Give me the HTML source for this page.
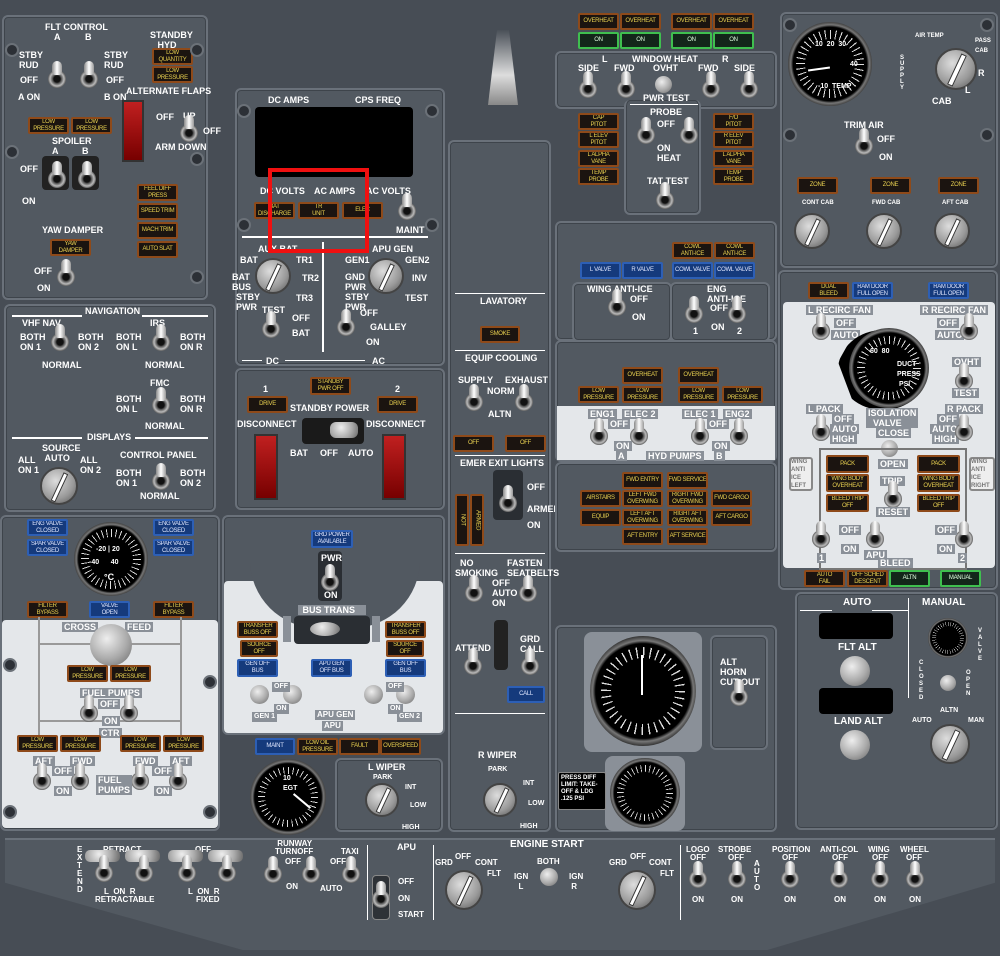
<!DOCTYPE html>
<html><head><meta charset="utf-8"><style>
*{margin:0;padding:0;box-sizing:border-box}
body{width:1000px;height:956px;background:#474d55;position:relative;overflow:hidden;font-family:"Liberation Sans",sans-serif}
.pn{position:absolute;background:#525961;border:2px solid #6a717a;border-radius:6px;box-shadow:inset 0 0 0 1px #3e444b}
.wh{position:absolute;background:#e4e7ea;border-radius:4px}
.am,.bu,.gr{position:absolute;height:17px;width:41px;border-radius:2px;display:flex;align-items:center;justify-content:center;text-align:center;font:6px/7px "Liberation Sans",sans-serif;letter-spacing:-.3px;white-space:nowrap;overflow:hidden}
.am{background:#1b1410;border:2px solid #8e4a1a;color:#e8d050}
.bu{background:#153a7c;border:2px solid #2d5fb5;color:#dfe6ff}
.gr{background:#13261a;border:2px solid #3fbf4f;color:#e0ffe0}
.t{position:absolute;color:#fff;font:bold 9px/10px "Liberation Sans",sans-serif;white-space:nowrap}
.tb{position:absolute;color:#fff;font:bold 9px/10px "Liberation Sans",sans-serif;white-space:nowrap;background:#8a9098;padding:0 2px}
.tg{position:absolute;width:18px;height:18px;border-radius:50%;background:radial-gradient(circle,#111 25%,#555 35%,#bbb 55%,#444 75%)}
.tg:after{content:"";position:absolute;left:4px;top:-9px;width:10px;height:14px;border-radius:5px 5px 3px 3px;background:linear-gradient(90deg,#888,#fff,#999)}
.kn{position:absolute;border-radius:50%;background:radial-gradient(circle at 40% 35%,#eee,#aaa 55%,#666)}
.kb{position:absolute;border-radius:50%;background:radial-gradient(circle at 40% 35%,#ddd,#999 60%,#555);border:2px solid #444}
.kb:after{content:"";position:absolute;left:45%;top:8%;width:10%;height:84%;background:#fff;border:1px solid #333;transform:rotate(25deg)}
.sc{position:absolute;width:14px;height:14px;border-radius:50%;background:#2c3036;border:2px solid #6b7178}
.gg{position:absolute;border-radius:50%;background:radial-gradient(circle,#000 62%,#777 66%,#333 72%,#555 100%)}
.gg:before{content:"";position:absolute;left:10%;top:10%;right:10%;bottom:10%;border-radius:50%;background:repeating-conic-gradient(#ddd 0 2deg,transparent 2deg 10deg)}
.gg:after{content:"";position:absolute;left:20%;top:20%;right:20%;bottom:20%;border-radius:50%;background:#000}
.bk{position:absolute;background:#000;border-radius:4px}
.rd{position:absolute;background:linear-gradient(#c02020,#700);border:2px solid #333}
.ln{position:absolute;background:#fff}
</style></head><body>

<div style="position:absolute;left:5px;top:838px;width:990px;height:112px;background:#525961;border-top:2px solid #6a717a;clip-path:polygon(0 0,100% 0,100% 40%,77% 100%,24% 100%,0 40%)"></div>

<div class="pn" style="left:2px;top:15px;width:206px;height:285px"></div>
<div class="t" style="left:45px;top:22px">FLT CONTROL</div>
<div class="t" style="left:54px;top:32px">A</div><div class="t" style="left:85px;top:32px">B</div>
<div class="t" style="left:19px;top:50px">STBY<br>RUD</div><div class="t" style="left:20px;top:75px">OFF</div><div class="t" style="left:18px;top:92px">A ON</div>
<div class="tg" style="left:48px;top:70px"></div><div class="tg" style="left:80px;top:70px"></div>
<div class="t" style="left:104px;top:50px">STBY<br>RUD</div><div class="t" style="left:106px;top:75px">OFF</div><div class="t" style="left:104px;top:92px">B ON</div>
<div class="t" style="left:150px;top:30px">STANDBY<br>&nbsp;&nbsp;&nbsp;HYD</div>
<div class="am" style="left:152px;top:48px">LOW<br>QUANTITY</div><div class="am" style="left:152px;top:66px">LOW<br>PRESSURE</div>
<div class="t" style="left:126px;top:86px">ALTERNATE FLAPS</div>
<div class="rd" style="left:122px;top:100px;width:22px;height:62px"></div>
<div class="t" style="left:156px;top:112px">OFF</div><div class="t" style="left:183px;top:111px">UP</div><div class="t" style="left:203px;top:126px">OFF</div>
<div class="t" style="left:155px;top:142px">ARM</div><div class="t" style="left:178px;top:142px">DOWN</div>
<div class="tg" style="left:180px;top:124px"></div>
<div class="am" style="left:28px;top:117px">LOW<br>PRESSURE</div><div class="am" style="left:71px;top:117px">LOW<br>PRESSURE</div>
<div class="t" style="left:52px;top:136px">SPOILER</div><div class="t" style="left:52px;top:146px">A</div><div class="t" style="left:82px;top:146px">B</div>
<div class="bk" style="left:42px;top:156px;width:27px;height:34px;background:#222"></div><div class="bk" style="left:72px;top:156px;width:27px;height:34px;background:#222"></div>
<div class="tg" style="left:48px;top:170px"></div><div class="tg" style="left:78px;top:170px"></div>
<div class="t" style="left:20px;top:164px">OFF</div><div class="t" style="left:22px;top:196px">ON</div>
<div class="am" style="left:137px;top:184px">FEEL DIFF<br>PRESS</div><div class="am" style="left:137px;top:203px">SPEED TRIM</div><div class="am" style="left:137px;top:222px">MACH TRIM</div><div class="am" style="left:137px;top:241px">AUTO SLAT</div>
<div class="t" style="left:42px;top:225px">YAW DAMPER</div>
<div class="am" style="left:50px;top:239px">YAW<br>DAMPER</div>
<div class="t" style="left:34px;top:266px">OFF</div><div class="t" style="left:37px;top:283px">ON</div><div class="tg" style="left:57px;top:268px"></div>
<div class="sc" style="left:5px;top:43px"></div><div class="sc" style="left:190px;top:43px"></div><div class="sc" style="left:5px;top:145px"></div><div class="sc" style="left:190px;top:152px"></div><div class="sc" style="left:190px;top:270px"></div>

<div class="pn" style="left:4px;top:304px;width:212px;height:208px"></div>
<div class="ln" style="left:12px;top:315px;width:70px;height:2px"></div><div class="t" style="left:85px;top:306px">NAVIGATION</div><div class="ln" style="left:142px;top:315px;width:66px;height:2px"></div>
<div class="t" style="left:22px;top:318px">VHF NAV</div><div class="t" style="left:150px;top:318px">IRS</div>
<div class="t" style="left:20px;top:332px">BOTH<br>ON 1</div><div class="t" style="left:78px;top:332px">BOTH<br>ON 2</div><div class="tg" style="left:51px;top:333px"></div>
<div class="t" style="left:116px;top:332px">BOTH<br>ON L</div><div class="t" style="left:180px;top:332px">BOTH<br>ON R</div><div class="tg" style="left:152px;top:333px"></div>
<div class="t" style="left:42px;top:360px">NORMAL</div><div class="t" style="left:145px;top:360px">NORMAL</div>
<div class="t" style="left:150px;top:378px">FMC</div>
<div class="t" style="left:116px;top:394px">BOTH<br>ON L</div><div class="t" style="left:180px;top:394px">BOTH<br>ON R</div><div class="tg" style="left:152px;top:396px"></div>
<div class="t" style="left:145px;top:421px">NORMAL</div>
<div class="ln" style="left:12px;top:437px;width:70px;height:2px"></div><div class="t" style="left:87px;top:432px">DISPLAYS</div><div class="ln" style="left:135px;top:437px;width:73px;height:2px"></div>
<div class="t" style="left:42px;top:443px">SOURCE<br>&nbsp;AUTO</div>
<div class="t" style="left:18px;top:455px">ALL<br>ON 1</div><div class="t" style="left:80px;top:455px">ALL<br>ON 2</div>
<div class="kb" style="left:40px;top:467px;width:38px;height:38px"></div>
<div class="t" style="left:120px;top:450px">CONTROL PANEL</div>
<div class="t" style="left:116px;top:468px">BOTH<br>ON 1</div><div class="t" style="left:180px;top:468px">BOTH<br>ON 2</div><div class="tg" style="left:152px;top:472px"></div>
<div class="t" style="left:140px;top:491px">NORMAL</div>

<div class="pn" style="left:235px;top:88px;width:210px;height:278px"></div>
<div class="t" style="left:268px;top:95px">DC AMPS</div><div class="t" style="left:355px;top:95px">CPS FREQ</div>
<div class="bk" style="left:255px;top:107px;width:158px;height:70px"></div>
<div class="t" style="left:260px;top:186px">DC VOLTS</div><div class="t" style="left:314px;top:186px">AC AMPS</div><div class="t" style="left:366px;top:186px">AC VOLTS</div>
<div class="am" style="left:254px;top:202px">BAT<br>DISCHARGE</div><div class="am" style="left:298px;top:202px">TR<br>UNIT</div><div class="am" style="left:342px;top:202px">ELEC</div>
<div class="tg" style="left:398px;top:202px"></div><div class="t" style="left:396px;top:225px">MAINT</div>
<div class="ln" style="left:242px;top:236px;width:186px;height:2px"></div>
<div class="ln" style="left:322px;top:242px;width:2px;height:110px"></div>
<div class="t" style="left:258px;top:244px">AUX BAT</div><div class="t" style="left:372px;top:244px">APU GEN</div>
<div class="t" style="left:240px;top:255px">BAT</div><div class="t" style="left:232px;top:272px">BAT<br>BUS</div><div class="t" style="left:236px;top:292px">STBY<br>PWR</div>
<div class="t" style="left:296px;top:255px">TR1</div><div class="t" style="left:302px;top:273px">TR2</div><div class="t" style="left:296px;top:293px">TR3</div>
<div class="kb" style="left:255px;top:258px;width:36px;height:36px"></div>
<div class="t" style="left:345px;top:255px">GEN1</div><div class="t" style="left:345px;top:272px">GND<br>PWR</div><div class="t" style="left:345px;top:292px">STBY<br>PWR</div>
<div class="t" style="left:405px;top:255px">GEN2</div><div class="t" style="left:412px;top:273px">INV</div><div class="t" style="left:405px;top:293px">TEST</div>
<div class="kb" style="left:368px;top:258px;width:36px;height:36px"></div>
<div class="t" style="left:262px;top:305px">TEST</div><div class="tg" style="left:262px;top:320px"></div>
<div class="t" style="left:292px;top:313px">OFF</div><div class="t" style="left:292px;top:328px">BAT</div>
<div class="tg" style="left:337px;top:318px"></div><div class="t" style="left:370px;top:322px">GALLEY</div><div class="t" style="left:366px;top:337px">ON</div><div class="t" style="left:360px;top:308px">OFF</div>
<div class="t" style="left:266px;top:356px">DC</div><div class="t" style="left:372px;top:356px">AC</div>
<div class="ln" style="left:242px;top:360px;width:20px;height:1px"></div><div class="ln" style="left:285px;top:360px;width:80px;height:1px"></div>
<div style="position:absolute;left:268px;top:168px;width:101px;height:85px;border:4px solid #f01010"></div>
<div class="sc" style="left:237px;top:104px"></div><div class="sc" style="left:425px;top:104px"></div><div class="sc" style="left:237px;top:218px"></div><div class="sc" style="left:425px;top:218px"></div>

<div class="pn" style="left:235px;top:368px;width:210px;height:142px"></div>
<div class="am" style="left:310px;top:377px;height:18px">STANDBY<br>PWR OFF</div>
<div class="t" style="left:263px;top:384px">1</div><div class="t" style="left:395px;top:384px">2</div>
<div class="am" style="left:247px;top:396px">DRIVE</div><div class="am" style="left:377px;top:396px">DRIVE</div>
<div class="t" style="left:290px;top:403px">STANDBY POWER</div>
<div class="t" style="left:237px;top:419px">DISCONNECT</div><div class="t" style="left:366px;top:419px">DISCONNECT</div>
<div class="bk" style="left:302px;top:418px;width:62px;height:26px;background:#1a1a1a"></div><div class="kn" style="left:330px;top:422px;width:28px;height:16px;border-radius:6px"></div>
<div class="t" style="left:290px;top:448px">BAT</div><div class="t" style="left:320px;top:448px">OFF</div><div class="t" style="left:348px;top:448px">AUTO</div>
<div class="rd" style="left:254px;top:434px;width:24px;height:66px"></div><div class="rd" style="left:382px;top:434px;width:24px;height:66px"></div>

<div class="pn" style="left:0px;top:515px;width:220px;height:316px"></div>
<div class="wh" style="left:2px;top:620px;width:216px;height:208px"></div>
<div class="bu" style="left:27px;top:519px">ENG VALVE<br>CLOSED</div><div class="bu" style="left:27px;top:539px">SPAR VALVE<br>CLOSED</div>
<div class="bu" style="left:153px;top:519px">ENG VALVE<br>CLOSED</div><div class="bu" style="left:153px;top:539px">SPAR VALVE<br>CLOSED</div>
<div class="gg" style="left:74px;top:522px;width:74px;height:74px"></div>
<div class="t" style="left:96px;top:545px;font-size:7px">-20 | 20</div><div class="t" style="left:89px;top:558px;font-size:7px">-40&nbsp;&nbsp;&nbsp;&nbsp;&nbsp;&nbsp;40</div><div class="t" style="left:104px;top:572px">°C</div>
<div class="am" style="left:27px;top:601px">FILTER<br>BYPASS</div><div class="bu" style="left:89px;top:601px">VALVE<br>OPEN</div><div class="am" style="left:153px;top:601px">FILTER<br>BYPASS</div>
<div class="tb" style="left:62px;top:622px">CROSS</div><div class="tb" style="left:125px;top:622px">FEED</div>
<div style="position:absolute;left:38px;top:617px;width:2px;height:120px;background:#999"></div><div style="position:absolute;left:180px;top:617px;width:2px;height:120px;background:#999"></div>
<div style="position:absolute;left:40px;top:643px;width:140px;height:2px;background:#999"></div>
<div style="position:absolute;left:40px;top:720px;width:140px;height:2px;background:#999"></div>
<div class="kn" style="left:90px;top:624px;width:42px;height:42px"></div>
<div class="am" style="left:67px;top:665px">LOW<br>PRESSURE</div><div class="am" style="left:110px;top:665px">LOW<br>PRESSURE</div>
<div class="tb" style="left:80px;top:688px">FUEL PUMPS</div>
<div class="tg" style="left:80px;top:704px"></div><div class="tg" style="left:120px;top:704px"></div>
<div class="tb" style="left:98px;top:699px">OFF</div><div class="tb" style="left:102px;top:716px">ON</div><div class="tb" style="left:99px;top:728px">CTR</div>
<div class="am" style="left:17px;top:735px">LOW<br>PRESSURE</div><div class="am" style="left:60px;top:735px">LOW<br>PRESSURE</div><div class="am" style="left:120px;top:735px">LOW<br>PRESSURE</div><div class="am" style="left:163px;top:735px">LOW<br>PRESSURE</div>
<div class="tb" style="left:33px;top:756px">AFT</div><div class="tb" style="left:70px;top:756px">FWD</div><div class="tb" style="left:133px;top:756px">FWD</div><div class="tb" style="left:170px;top:756px">AFT</div>
<div class="tg" style="left:33px;top:772px"></div><div class="tg" style="left:71px;top:772px"></div><div class="tg" style="left:131px;top:772px"></div><div class="tg" style="left:169px;top:772px"></div>
<div class="tb" style="left:52px;top:766px">OFF</div><div class="tb" style="left:54px;top:786px">ON</div><div class="tb" style="left:152px;top:766px">OFF</div><div class="tb" style="left:154px;top:786px">ON</div>
<div class="tb" style="left:96px;top:775px">FUEL<br>PUMPS</div>
<div class="sc" style="left:3px;top:658px"></div><div class="sc" style="left:203px;top:675px"></div><div class="sc" style="left:3px;top:805px"></div><div class="sc" style="left:203px;top:805px"></div>

<div class="pn" style="left:222px;top:515px;width:223px;height:220px"></div>
<div class="wh" style="left:224px;top:581px;width:219px;height:152px"></div>
<div style="position:absolute;left:250px;top:560px;width:170px;height:68px;background:#525961;border-radius:0 0 85px 85px"></div>
<div class="bu" style="left:311px;top:530px;width:42px;height:18px">GRD POWER<br>AVAILABLE</div>
<div class="bk" style="left:318px;top:551px;width:24px;height:50px;background:#2a2e33"></div>
<div class="t" style="left:321px;top:553px">PWR</div><div class="tg" style="left:321px;top:573px"></div><div class="t" style="left:324px;top:590px">ON</div>
<div class="tb" style="left:298px;top:605px;width:68px">&nbsp;BUS TRANS</div>
<div class="am" style="left:237px;top:621px">TRANSFER<br>BUSS OFF</div><div class="am" style="left:240px;top:640px;width:38px">SOURCE<br>OFF</div><div class="bu" style="left:237px;top:659px;height:18px">GEN OFF<br>BUS</div>
<div class="am" style="left:385px;top:621px">TRANSFER<br>BUSS OFF</div><div class="am" style="left:386px;top:640px;width:38px">SOURCE<br>OFF</div><div class="bu" style="left:385px;top:659px;height:18px">GEN OFF<br>BUS</div>
<div class="bu" style="left:311px;top:659px;height:18px">APU GEN<br>OFF BUS</div>
<div class="bk" style="left:294px;top:616px;width:76px;height:28px;background:#2a2e33"></div><div class="kn" style="left:310px;top:622px;width:30px;height:14px"></div>
<div class="tb" style="left:283px;top:616px;width:8px;height:26px"></div><div class="tb" style="left:372px;top:616px;width:8px;height:26px"></div>
<div class="kn" style="left:250px;top:685px;width:19px;height:19px"></div><div class="kn" style="left:283px;top:685px;width:19px;height:19px"></div><div class="kn" style="left:364px;top:685px;width:19px;height:19px"></div><div class="kn" style="left:396px;top:685px;width:19px;height:19px"></div>
<div class="tb" style="left:272px;top:682px;font-size:7px">OFF</div><div class="tb" style="left:274px;top:704px;font-size:7px">ON</div><div class="tb" style="left:252px;top:712px;font-size:7px">GEN 1</div>
<div class="tb" style="left:386px;top:682px;font-size:7px">OFF</div><div class="tb" style="left:388px;top:704px;font-size:7px">ON</div><div class="tb" style="left:397px;top:712px;font-size:7px">GEN 2</div>
<div class="tb" style="left:315px;top:710px;font-size:8px">APU GEN</div><div class="tb" style="left:322px;top:721px;font-size:8px">APU</div>

<div class="bu" style="left:255px;top:738px;width:40px">MAINT</div><div class="am" style="left:297px;top:738px">LOW OIL<br>PRESSURE</div><div class="am" style="left:339px;top:738px">FAULT</div><div class="am" style="left:380px;top:738px">OVERSPEED</div>
<div class="gg" style="left:250px;top:759px;width:76px;height:76px"></div><div class="t" style="left:283px;top:774px;font-size:7px">10<br>EGT</div>
<div style="position:absolute;left:291px;top:800px;width:22px;height:2px;background:#fff;transform:rotate(40deg)"></div>
<div class="pn" style="left:335px;top:758px;width:108px;height:74px"></div>
<div class="t" style="left:368px;top:762px">L WIPER</div><div class="t" style="left:373px;top:773px;font-size:7px">PARK</div>
<div class="kb" style="left:365px;top:783px;width:34px;height:34px"></div>
<div class="t" style="left:405px;top:783px;font-size:7px">INT</div><div class="t" style="left:410px;top:801px;font-size:7px">LOW</div><div class="t" style="left:402px;top:823px;font-size:7px">HIGH</div>

<div style="position:absolute;left:488px;top:30px;width:30px;height:75px;background:linear-gradient(#4a5058,#ddd 60%,#888);clip-path:polygon(30% 0,70% 0,100% 100%,0 100%)"></div>
<div class="pn" style="left:448px;top:140px;width:103px;height:692px"></div>
<div class="ln" style="left:455px;top:293px;width:90px;height:1px"></div>
<div class="t" style="left:480px;top:296px">LAVATORY</div>
<div class="am" style="left:480px;top:326px;width:40px">SMOKE</div>
<div class="ln" style="left:455px;top:350px;width:90px;height:1px"></div>
<div class="t" style="left:465px;top:353px">EQUIP COOLING</div>
<div class="t" style="left:458px;top:375px">SUPPLY</div><div class="t" style="left:505px;top:375px">EXHAUST</div><div class="t" style="left:487px;top:386px">NORM</div><div class="t" style="left:488px;top:409px">ALTN</div>
<div class="tg" style="left:465px;top:393px"></div><div class="tg" style="left:515px;top:393px"></div>
<div class="am" style="left:453px;top:435px">OFF</div><div class="am" style="left:505px;top:435px">OFF</div>
<div class="ln" style="left:455px;top:455px;width:90px;height:1px"></div>
<div class="t" style="left:460px;top:458px">EMER EXIT LIGHTS</div>
<div class="bk" style="left:493px;top:470px;width:30px;height:50px;background:#2a2e33"></div><div class="tg" style="left:499px;top:494px"></div>
<div class="t" style="left:527px;top:482px">OFF</div><div class="t" style="left:527px;top:504px">ARMED</div><div class="t" style="left:527px;top:520px">ON</div>
<div class="am" style="left:455px;top:494px;width:14px;height:52px;writing-mode:vertical-rl">NOT</div><div class="am" style="left:470px;top:494px;width:14px;height:52px;writing-mode:vertical-rl">ARMED</div>
<div class="ln" style="left:455px;top:553px;width:90px;height:1px"></div>
<div class="t" style="left:455px;top:558px">&nbsp;&nbsp;NO<br>SMOKING</div><div class="t" style="left:507px;top:558px">FASTEN<br>SEATBELTS</div>
<div class="t" style="left:492px;top:578px">OFF<br>AUTO<br>ON</div>
<div class="tg" style="left:465px;top:584px"></div><div class="tg" style="left:519px;top:584px"></div>
<div class="t" style="left:455px;top:643px">ATTEND</div><div class="t" style="left:520px;top:634px">GRD<br>CALL</div>
<div class="bk" style="left:494px;top:620px;width:14px;height:50px;background:#222"></div>
<div class="tg" style="left:464px;top:657px"></div><div class="tg" style="left:521px;top:657px"></div>
<div class="bu" style="left:507px;top:686px;width:38px">CALL</div>
<div class="ln" style="left:455px;top:713px;width:90px;height:1px"></div>
<div class="t" style="left:478px;top:750px">R WIPER</div><div class="t" style="left:488px;top:765px;font-size:7px">PARK</div>
<div class="kb" style="left:483px;top:783px;width:34px;height:34px"></div>
<div class="t" style="left:523px;top:779px;font-size:7px">INT</div><div class="t" style="left:528px;top:799px;font-size:7px">LOW</div><div class="t" style="left:520px;top:822px;font-size:7px">HIGH</div>

<div class="am" style="left:578px;top:13px">OVERHEAT</div><div class="am" style="left:620px;top:13px">OVERHEAT</div><div class="am" style="left:671px;top:13px">OVERHEAT</div><div class="am" style="left:713px;top:13px">OVERHEAT</div>
<div class="gr" style="left:578px;top:32px">ON</div><div class="gr" style="left:620px;top:32px">ON</div><div class="gr" style="left:671px;top:32px">ON</div><div class="gr" style="left:713px;top:32px">ON</div>
<div class="pn" style="left:555px;top:51px;width:222px;height:58px"></div>
<div class="pn" style="left:624px;top:100px;width:77px;height:115px;border-top:none"></div>
<div class="t" style="left:602px;top:54px">L</div><div class="t" style="left:632px;top:54px">WINDOW HEAT</div><div class="t" style="left:722px;top:54px">R</div>
<div class="t" style="left:578px;top:63px">SIDE</div><div class="t" style="left:614px;top:63px">FWD</div><div class="t" style="left:653px;top:63px">OVHT</div><div class="t" style="left:698px;top:63px">FWD</div><div class="t" style="left:734px;top:63px">SIDE</div>
<div class="tg" style="left:579px;top:80px"></div><div class="tg" style="left:617px;top:80px"></div><div class="kn" style="left:655px;top:76px;width:17px;height:17px"></div><div class="tg" style="left:702px;top:80px"></div><div class="tg" style="left:740px;top:80px"></div>
<div class="t" style="left:643px;top:93px">PWR TEST</div><div class="ln" style="left:630px;top:104px;width:68px;height:1px"></div>
<div class="t" style="left:650px;top:107px">PROBE</div><div class="t" style="left:657px;top:119px">OFF</div><div class="t" style="left:657px;top:143px">ON<br>HEAT</div>
<div class="tg" style="left:637px;top:126px"></div><div class="tg" style="left:680px;top:126px"></div>
<div class="t" style="left:647px;top:176px">TAT TEST</div><div class="tg" style="left:656px;top:191px"></div>
<div class="am" style="left:578px;top:113px">CAP<br>PITOT</div><div class="am" style="left:578px;top:131px">L ELEV<br>PITOT</div><div class="am" style="left:578px;top:150px">L ALPHA<br>VANE</div><div class="am" style="left:578px;top:168px">TEMP<br>PROBE</div>
<div class="am" style="left:713px;top:113px">F/O<br>PITOT</div><div class="am" style="left:713px;top:131px">R ELEV<br>PITOT</div><div class="am" style="left:713px;top:150px">L ALPHA<br>VANE</div><div class="am" style="left:713px;top:168px">TEMP<br>PROBE</div>

<div class="pn" style="left:555px;top:221px;width:222px;height:120px"></div>
<div class="am" style="left:672px;top:242px">COWL<br>ANTI-ICE</div><div class="am" style="left:714px;top:242px">COWL<br>ANTI-ICE</div>
<div class="bu" style="left:580px;top:262px">L VALVE</div><div class="bu" style="left:622px;top:262px">R VALVE</div><div class="bu" style="left:672px;top:262px">COWL VALVE</div><div class="bu" style="left:714px;top:262px">COWL VALVE</div>
<div class="pn" style="left:572px;top:282px;width:100px;height:60px"></div><div class="pn" style="left:670px;top:282px;width:100px;height:60px"></div>
<div class="t" style="left:587px;top:284px">WING ANTI-ICE</div><div class="t" style="left:630px;top:294px">OFF</div><div class="t" style="left:632px;top:312px">ON</div><div class="tg" style="left:608px;top:298px"></div>
<div class="t" style="left:707px;top:284px">ENG<br>ANTI-ICE</div><div class="t" style="left:710px;top:303px">OFF</div><div class="t" style="left:711px;top:322px">ON</div>
<div class="tg" style="left:685px;top:305px"></div><div class="tg" style="left:728px;top:305px"></div>
<div class="t" style="left:693px;top:326px">1</div><div class="t" style="left:737px;top:326px">2</div>

<div class="pn" style="left:555px;top:340px;width:222px;height:122px"></div>
<div class="wh" style="left:557px;top:406px;width:218px;height:54px;border-radius:0"></div>
<div class="am" style="left:622px;top:367px">OVERHEAT</div><div class="am" style="left:678px;top:367px">OVERHEAT</div>
<div class="am" style="left:578px;top:386px">LOW<br>PRESSURE</div><div class="am" style="left:622px;top:386px">LOW<br>PRESSURE</div><div class="am" style="left:678px;top:386px">LOW<br>PRESSURE</div><div class="am" style="left:722px;top:386px">LOW<br>PRESSURE</div>
<div class="tb" style="left:588px;top:409px">ENG1</div><div class="tb" style="left:622px;top:409px">ELEC 2</div><div class="tb" style="left:682px;top:409px">ELEC 1</div><div class="tb" style="left:723px;top:409px">ENG2</div>
<div class="tb" style="left:608px;top:419px">OFF</div><div class="tb" style="left:707px;top:419px">OFF</div>
<div class="tg" style="left:590px;top:427px"></div><div class="tg" style="left:630px;top:427px"></div><div class="tg" style="left:691px;top:427px"></div><div class="tg" style="left:730px;top:427px"></div>
<div class="tb" style="left:614px;top:441px">ON</div><div class="tb" style="left:616px;top:451px">A</div><div class="tb" style="left:646px;top:451px">HYD PUMPS</div><div class="tb" style="left:712px;top:441px">ON</div><div class="tb" style="left:714px;top:451px">B</div>

<div class="pn" style="left:555px;top:462px;width:222px;height:90px"></div>
<div class="am" style="left:622px;top:472px">FWD ENTRY</div><div class="am" style="left:667px;top:472px">FWD SERVICE</div>
<div class="am" style="left:580px;top:490px">AIRSTAIRS</div><div class="am" style="left:622px;top:490px">LEFT FWD<br>OVERWING</div><div class="am" style="left:667px;top:490px">RIGHT FWD<br>OVERWING</div><div class="am" style="left:711px;top:490px">FWD CARGO</div>
<div class="am" style="left:580px;top:509px">EQUIP</div><div class="am" style="left:622px;top:509px">LEFT AFT<br>OVERWING</div><div class="am" style="left:667px;top:509px">RIGHT AFT<br>OVERWING</div><div class="am" style="left:711px;top:509px">AFT CARGO</div>
<div class="am" style="left:622px;top:528px">AFT ENTRY</div><div class="am" style="left:667px;top:528px">AFT SERVICE</div>

<div class="pn" style="left:555px;top:625px;width:222px;height:207px"></div>
<div class="pn" style="left:710px;top:635px;width:58px;height:115px"></div>
<div style="position:absolute;left:584px;top:632px;width:118px;height:120px;background:#8a9098;border-radius:8px"></div>
<div class="gg" style="left:590px;top:636px;width:106px;height:110px"></div>
<div style="position:absolute;left:641px;top:655px;width:2px;height:40px;background:#fff"></div>
<div class="t" style="left:720px;top:657px">ALT<br>HORN<br>CUT OUT</div><div class="tg" style="left:730px;top:688px"></div>
<div style="position:absolute;left:605px;top:756px;width:80px;height:75px;background:#8a9098;border-radius:8px"></div>
<div class="gg" style="left:610px;top:758px;width:70px;height:70px"></div>
<div class="bk" style="left:558px;top:772px;width:48px;height:38px;border:1px solid #888;border-radius:2px"></div>
<div class="t" style="left:561px;top:775px;font-size:6px;line-height:7px">PRESS DIFF<br>LIMIT: TAKE-<br>OFF &amp; LDG<br>.125 PSI</div>

<div class="pn" style="left:780px;top:12px;width:218px;height:256px"></div>
<div class="gg" style="left:788px;top:22px;width:84px;height:84px"></div>
<div class="t" style="left:815px;top:40px;font-size:7px">10&nbsp;&nbsp;20&nbsp;&nbsp;30</div><div class="t" style="left:850px;top:60px;font-size:7px">40</div><div class="t" style="left:818px;top:82px;font-size:7px">-10&nbsp;&nbsp;TEMP</div>
<div style="position:absolute;left:808px;top:68px;width:22px;height:2px;background:#fff;transform:rotate(-8deg)"></div>
<div class="t" style="left:915px;top:31px;font-size:6px">AIR TEMP</div><div class="t" style="left:975px;top:36px;font-size:6px">PASS<br>CAB</div>
<div class="t" style="left:900px;top:55px;font-size:6px;line-height:6px">S<br>U<br>P<br>P<br>L<br>Y</div>
<div class="kb" style="left:935px;top:48px;width:42px;height:42px"></div>
<div class="t" style="left:932px;top:96px">CAB</div><div class="t" style="left:965px;top:85px">L</div><div class="t" style="left:978px;top:68px">R</div>
<div class="t" style="left:844px;top:120px">TRIM AIR</div><div class="tg" style="left:855px;top:137px"></div><div class="t" style="left:877px;top:134px">OFF</div><div class="t" style="left:879px;top:152px">ON</div>
<div class="am" style="left:797px;top:177px">ZONE</div><div class="am" style="left:870px;top:177px">ZONE</div><div class="am" style="left:938px;top:177px">ZONE</div>
<div class="t" style="left:802px;top:198px;font-size:6px">CONT CAB</div><div class="t" style="left:872px;top:198px;font-size:6px">FWD CAB</div><div class="t" style="left:942px;top:198px;font-size:6px">AFT CAB</div>
<div class="kb" style="left:794px;top:213px;width:36px;height:36px"></div><div class="kb" style="left:866px;top:213px;width:36px;height:36px"></div><div class="kb" style="left:934px;top:213px;width:36px;height:36px"></div>
<div class="sc" style="left:783px;top:18px"></div><div class="sc" style="left:980px;top:18px"></div><div class="sc" style="left:783px;top:128px"></div><div class="sc" style="left:980px;top:128px"></div>

<div class="pn" style="left:778px;top:270px;width:220px;height:320px"></div>
<div class="wh" style="left:783px;top:302px;width:212px;height:266px"></div>
<div class="am" style="left:808px;top:282px">DUAL<br>BLEED</div><div class="bu" style="left:852px;top:282px">RAM DOOR<br>FULL OPEN</div><div class="bu" style="left:928px;top:282px">RAM DOOR<br>FULL OPEN</div>
<div class="tb" style="left:806px;top:305px">L RECIRC FAN</div><div class="tb" style="left:920px;top:305px">R RECIRC FAN</div>
<div class="tb" style="left:834px;top:318px">OFF</div><div class="tb" style="left:831px;top:330px">AUTO</div><div class="tb" style="left:937px;top:318px">OFF</div><div class="tb" style="left:935px;top:330px">AUTO</div>
<div class="tg" style="left:812px;top:322px"></div><div class="tg" style="left:960px;top:322px"></div>
<div style="position:absolute;left:838px;top:330px;width:90px;height:80px;background:#000;border-radius:50%;clip-path:polygon(0 40%,20% 0,100% 0,100% 100%,20% 100%)"></div>
<div class="gg" style="left:849px;top:328px;width:80px;height:80px"></div>
<div class="t" style="left:870px;top:347px;font-size:7px">60&nbsp;&nbsp;80</div><div class="t" style="left:897px;top:360px;font-size:7px">DUCT<br>PRESS<br>&nbsp;PSI</div>
<div class="tb" style="left:952px;top:357px">OVHT</div><div class="tg" style="left:955px;top:372px"></div><div class="tb" style="left:952px;top:388px">TEST</div>
<div class="tb" style="left:806px;top:404px">L PACK</div><div class="tb" style="left:832px;top:414px">OFF</div><div class="tb" style="left:830px;top:424px">AUTO</div><div class="tb" style="left:830px;top:434px">HIGH</div>
<div class="tb" style="left:945px;top:404px">R PACK</div><div class="tb" style="left:937px;top:414px">OFF</div><div class="tb" style="left:930px;top:424px">AUTO</div><div class="tb" style="left:932px;top:434px">HIGH</div>
<div class="tg" style="left:812px;top:423px"></div><div class="tg" style="left:955px;top:423px"></div>
<div class="tb" style="left:866px;top:408px">ISOLATION<br>&nbsp;&nbsp;VALVE</div><div class="tb" style="left:876px;top:428px">CLOSE</div>
<div class="kn" style="left:881px;top:440px;width:17px;height:17px"></div>
<div style="position:absolute;left:819px;top:448px;width:148px;height:122px;border:2px double #777"></div>
<div class="tb" style="left:878px;top:459px">OPEN</div>
<div class="am" style="left:826px;top:455px;width:43px;height:18px">PACK</div><div class="am" style="left:826px;top:474px;width:43px;height:18px">WING BODY<br>OVERHEAT</div><div class="am" style="left:826px;top:494px;width:43px;height:18px">BLEED TRIP<br>OFF</div>
<div class="am" style="left:917px;top:455px;width:43px;height:18px">PACK</div><div class="am" style="left:917px;top:474px;width:43px;height:18px">WING BODY<br>OVERHEAT</div><div class="am" style="left:917px;top:494px;width:43px;height:18px">BLEED TRIP<br>OFF</div>
<div class="tb" style="left:880px;top:476px">TRIP</div><div class="tg" style="left:884px;top:490px"></div><div class="tb" style="left:876px;top:507px">RESET</div>
<div style="position:absolute;left:789px;top:457px;width:24px;height:34px;border:2px solid #888;border-radius:3px;background:#eee"></div><div class="t" style="left:791px;top:458px;color:#777;font-size:6px;line-height:8px">WING<br>ANTI<br>ICE<br>LEFT</div>
<div style="position:absolute;left:969px;top:457px;width:26px;height:34px;border:2px solid #888;border-radius:3px;background:#eee"></div><div class="t" style="left:971px;top:458px;color:#777;font-size:6px;line-height:8px">WING<br>ANTI<br>ICE<br>RIGHT</div>
<div class="tg" style="left:812px;top:530px"></div><div class="tg" style="left:866px;top:530px"></div><div class="tg" style="left:955px;top:530px"></div>
<div class="tb" style="left:839px;top:525px">OFF</div><div class="tb" style="left:841px;top:544px">ON</div><div class="tb" style="left:935px;top:525px">OFF</div><div class="tb" style="left:937px;top:544px">ON</div>
<div class="tb" style="left:817px;top:553px">1</div><div class="tb" style="left:864px;top:550px">APU</div><div class="tb" style="left:878px;top:558px">BLEED</div><div class="tb" style="left:958px;top:553px">2</div>
<div class="am" style="left:804px;top:570px">AUTO<br>FAIL</div><div class="am" style="left:847px;top:570px">OFF SCHED<br>DESCENT</div><div class="gr" style="left:889px;top:570px">ALTN</div><div class="gr" style="left:940px;top:570px">MANUAL</div>

<div class="pn" style="left:795px;top:592px;width:203px;height:238px"></div>
<div class="t" style="left:843px;top:598px;font-size:10px">AUTO</div><div class="t" style="left:922px;top:598px;font-size:10px">MANUAL</div>
<div class="ln" style="left:908px;top:598px;width:1px;height:100px"></div><div class="ln" style="left:800px;top:610px;width:32px;height:1px"></div><div class="ln" style="left:872px;top:610px;width:36px;height:1px"></div>
<div class="bk" style="left:819px;top:613px;width:74px;height:26px"></div>
<div class="t" style="left:838px;top:643px;font-size:10px">FLT ALT</div><div class="kn" style="left:840px;top:656px;width:30px;height:30px"></div>
<div class="bk" style="left:819px;top:688px;width:74px;height:26px"></div>
<div class="t" style="left:834px;top:717px;font-size:10px">LAND ALT</div><div class="kn" style="left:840px;top:730px;width:30px;height:30px"></div>
<div class="gg" style="left:928px;top:618px;width:40px;height:40px"></div>
<div class="t" style="left:978px;top:628px;font-size:6px;line-height:7px">V<br>A<br>L<br>V<br>E</div>
<div class="t" style="left:919px;top:660px;font-size:6px;line-height:7px">C<br>L<br>O<br>S<br>E<br>D</div><div class="t" style="left:966px;top:670px;font-size:6px;line-height:7px">O<br>P<br>E<br>N</div>
<div class="kn" style="left:940px;top:675px;width:16px;height:16px"></div>
<div class="t" style="left:940px;top:706px;font-size:7px">ALTN</div><div class="t" style="left:912px;top:716px;font-size:7px">AUTO</div><div class="t" style="left:968px;top:716px;font-size:7px">MAN</div>
<div class="kb" style="left:930px;top:724px;width:40px;height:40px"></div>

<div class="t" style="left:77px;top:846px;font-size:8px;line-height:8px">E<br>X<br>T<br>E<br>N<br>D</div>
<div class="t" style="left:103px;top:845px;font-size:8px">RETRACT</div><div class="t" style="left:195px;top:845px;font-size:8px">OFF</div>
<div class="kn" style="left:85px;top:850px;width:35px;height:12px;border-radius:5px"></div><div class="kn" style="left:125px;top:850px;width:35px;height:12px;border-radius:5px"></div>
<div class="kn" style="left:168px;top:850px;width:35px;height:12px;border-radius:5px"></div><div class="kn" style="left:208px;top:850px;width:35px;height:12px;border-radius:5px"></div>
<div class="tg" style="left:95px;top:864px"></div><div class="tg" style="left:135px;top:864px"></div><div class="tg" style="left:178px;top:864px"></div><div class="tg" style="left:218px;top:864px"></div>
<div class="t" style="left:104px;top:887px;font-size:8px">L&nbsp;&nbsp;ON&nbsp;&nbsp;R</div><div class="t" style="left:95px;top:895px;font-size:8px">RETRACTABLE</div>
<div class="t" style="left:188px;top:887px;font-size:8px">L&nbsp;&nbsp;ON&nbsp;&nbsp;R</div><div class="t" style="left:196px;top:895px;font-size:8px">FIXED</div>
<div class="t" style="left:275px;top:840px;font-size:8px;line-height:8px">&nbsp;RUNWAY<br>TURNOFF</div><div class="t" style="left:341px;top:847px;font-size:8px">TAXI</div>
<div class="t" style="left:285px;top:857px;font-size:8px">OFF</div><div class="t" style="left:330px;top:857px;font-size:8px">OFF</div>
<div class="tg" style="left:264px;top:865px"></div><div class="tg" style="left:302px;top:865px"></div><div class="tg" style="left:342px;top:865px"></div>
<div class="t" style="left:286px;top:882px;font-size:8px">ON</div><div class="t" style="left:320px;top:884px;font-size:8px">AUTO</div>
<div class="ln" style="left:367px;top:845px;width:1px;height:75px"></div><div class="ln" style="left:433px;top:845px;width:1px;height:75px"></div>
<div class="t" style="left:397px;top:842px">APU</div>
<div class="bk" style="left:372px;top:875px;width:18px;height:45px;background:#2e3237;border:1px solid #888"></div><div class="tg" style="left:372px;top:890px"></div>
<div class="t" style="left:398px;top:877px;font-size:8px">OFF</div><div class="t" style="left:398px;top:894px;font-size:8px">ON</div><div class="t" style="left:398px;top:910px;font-size:8px">START</div>
<div class="t" style="left:510px;top:840px;font-size:10px">ENGINE START</div>
<div class="t" style="left:435px;top:858px;font-size:8px">GRD</div><div class="t" style="left:455px;top:852px;font-size:8px">OFF</div><div class="t" style="left:475px;top:858px;font-size:8px">CONT</div><div class="t" style="left:487px;top:869px;font-size:8px">FLT</div>
<div class="kb" style="left:445px;top:870px;width:38px;height:40px"></div>
<div class="t" style="left:537px;top:857px;font-size:8px">BOTH</div><div class="kn" style="left:540px;top:868px;width:18px;height:18px"></div>
<div class="t" style="left:514px;top:872px;font-size:8px">IGN<br>&nbsp;&nbsp;L</div><div class="t" style="left:569px;top:872px;font-size:8px">IGN<br>&nbsp;R</div>
<div class="t" style="left:609px;top:858px;font-size:8px">GRD</div><div class="t" style="left:630px;top:852px;font-size:8px">OFF</div><div class="t" style="left:649px;top:858px;font-size:8px">CONT</div><div class="t" style="left:660px;top:869px;font-size:8px">FLT</div>
<div class="kb" style="left:618px;top:870px;width:38px;height:40px"></div>
<div class="ln" style="left:680px;top:845px;width:1px;height:75px"></div>
<div class="t" style="left:686px;top:845px;font-size:8px">LOGO</div><div class="t" style="left:718px;top:845px;font-size:8px">STROBE</div><div class="t" style="left:772px;top:845px;font-size:8px">POSITION</div><div class="t" style="left:820px;top:845px;font-size:8px">ANTI-COL</div><div class="t" style="left:868px;top:845px;font-size:8px">WING</div><div class="t" style="left:900px;top:845px;font-size:8px">WHEEL</div>
<div class="t" style="left:690px;top:853px;font-size:8px">OFF</div><div class="t" style="left:728px;top:853px;font-size:8px">OFF</div><div class="t" style="left:782px;top:853px;font-size:8px">OFF</div><div class="t" style="left:832px;top:853px;font-size:8px">OFF</div><div class="t" style="left:872px;top:853px;font-size:8px">OFF</div><div class="t" style="left:906px;top:853px;font-size:8px">OFF</div>
<div class="tg" style="left:689px;top:870px"></div><div class="tg" style="left:728px;top:870px"></div><div class="tg" style="left:781px;top:870px"></div><div class="tg" style="left:830px;top:870px"></div><div class="tg" style="left:871px;top:870px"></div><div class="tg" style="left:906px;top:870px"></div>
<div class="t" style="left:754px;top:860px;font-size:8px;line-height:8px">A<br>U<br>T<br>O</div>
<div class="t" style="left:692px;top:895px;font-size:8px">ON</div><div class="t" style="left:731px;top:895px;font-size:8px">ON</div><div class="t" style="left:784px;top:895px;font-size:8px">ON</div><div class="t" style="left:834px;top:895px;font-size:8px">ON</div><div class="t" style="left:874px;top:895px;font-size:8px">ON</div><div class="t" style="left:909px;top:895px;font-size:8px">ON</div>
</body></html>
